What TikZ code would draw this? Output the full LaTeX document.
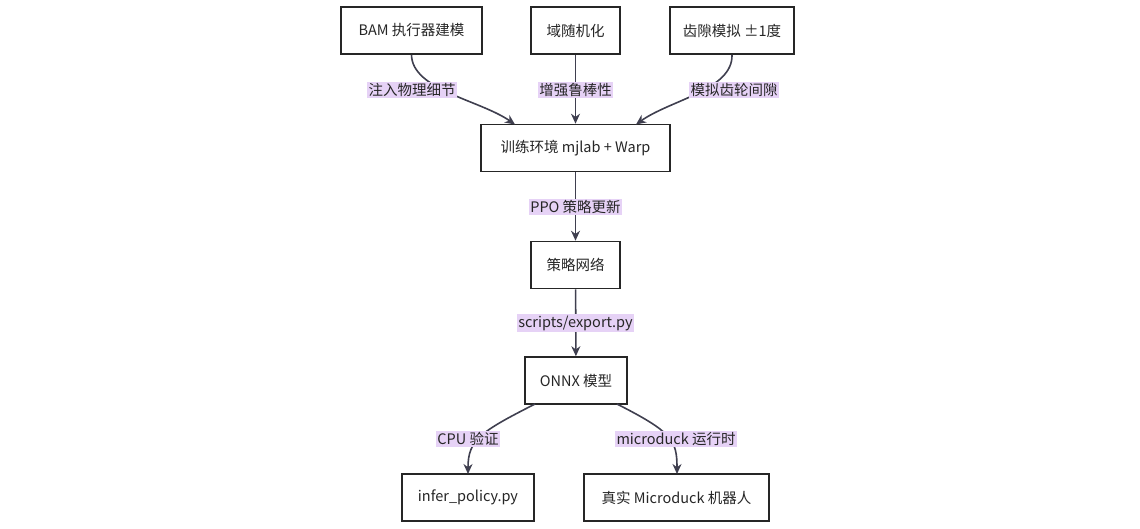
\documentclass[tikz,border=0pt]{standalone}
\usepackage{fontspec}
\setmainfont{Noto Sans CJK SC}
\usetikzlibrary{arrows.meta}
\definecolor{edgec}{HTML}{3F3F4F}
\definecolor{lblbg}{HTML}{E6D2F6}
\tikzset{
 box/.style={draw=black!85,line width=1.6pt,fill=white,minimum height=47pt,inner xsep=0pt,font=\fontsize{14.5}{16}\selectfont,text=black!85},
 lbl/.style={fill=lblbg,inner sep=1.5pt,font=\fontsize{14.5}{16}\selectfont,text=black!85},
 conn/.style={draw=edgec,line width=1.6pt,-{Stealth[length=10pt,width=9pt]}}
}
\begin{document}
\begin{tikzpicture}[x=1pt,y=-1pt]
\useasboundingbox (0,0) rectangle (1140,528);
\node[box,minimum width=141pt] (bam) at (411.5,30.5) {BAM 执行器建模};
\node[box,minimum width=89pt] (dr) at (575.5,30.5) {域随机化};
\node[box,minimum width=124pt] (bl) at (732,30.5) {齿隙模拟 ±1度};
\node[box,minimum width=189pt] (env) at (575.5,148) {训练环境 mjlab + Warp};
\node[box,minimum width=89pt] (pol) at (575.5,265) {策略网络};
\node[box,minimum width=102pt] (onnx) at (576,380.5) {ONNX 模型};
\node[box,minimum width=132pt] (inf) at (468,497.5) {infer\_policy.py};
\node[box,minimum width=185pt] (real) at (676.5,497.5) {真实 Microduck 机器人};
\draw[conn] (bam.south) .. controls (412,90) and (480,100) .. (515,124.5);
\draw[conn] (dr) -- (env);
\draw[conn] (bl.south) .. controls (733,90) and (670,100) .. (636,124.5);
\draw[conn] (env) -- (pol);
\draw[conn] (pol) -- (onnx);
\draw[conn] (535,404) .. controls (480,432) and (468,440) .. (468,474);
\draw[conn] (617,404) .. controls (672,432) and (677,440) .. (677,474);
\node[lbl] (l1) at (412,90) {注入物理细节};
\node[lbl] (l2) at (575.5,90) {增强鲁棒性};
\node[lbl] (l3) at (734,90) {模拟齿轮间隙};
\node[lbl] (l4) at (575.5,207) {PPO 策略更新};
\node[lbl] (l5) at (575.5,323) {scripts/export.py};
\node[lbl] (l6) at (468,439) {CPU 验证};
\node[lbl] (l7) at (676,439) {microduck 运行时};
\end{tikzpicture}
\end{document}
